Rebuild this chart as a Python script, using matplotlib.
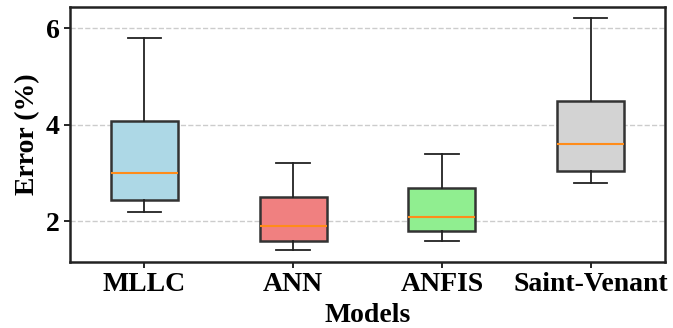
import numpy as np
import matplotlib.pyplot as plt

# Data
models = ['MLLC', 'ANN', 'ANFIS', 'Saint-Venant']
whislo = [2.2, 1.4, 1.6, 2.8]
q1 = [2.45, 1.6, 1.8, 3.05]
med = [3.0, 1.9, 2.1, 3.6]
q3 = [4.08, 2.5, 2.7, 4.5]
whishi = [5.8, 3.2, 3.4, 6.2]
colors = ['lightblue', 'lightcoral', 'lightgreen', 'lightgray']

plt.rcParams['font.family'] = ['Liberation Serif', 'DejaVu Serif']
plt.rcParams['font.weight'] = 'bold'

stats = []
for i in range(len(models)):
    stats.append({'label': models[i], 'whislo': whislo[i], 'q1': q1[i],
                  'med': med[i], 'q3': q3[i], 'whishi': whishi[i], 'fliers': []})

fig = plt.figure(figsize=(6.73, 3.28), dpi=100)
ax = fig.add_axes([0.104, 0.201, 0.884, 0.778])

bp = ax.bxp(stats, widths=0.45, patch_artist=True,
            boxprops=dict(linewidth=1.8, edgecolor='#333333'),
            whiskerprops=dict(linewidth=1.3, color='#222222'),
            capprops=dict(linewidth=1.3, color='#222222'),
            medianprops=dict(linewidth=1.5, color='#ff8c1a'))
for patch, c in zip(bp['boxes'], colors):
    patch.set_facecolor(c)

ax.set_yticks([2, 4, 6])
ax.yaxis.grid(True, linestyle='--', color='#cccccc', linewidth=1.0)
ax.set_axisbelow(True)
for s in ax.spines.values():
    s.set_linewidth(1.8)
    s.set_color('#222222')

ax.tick_params(axis='both', labelsize=20, width=1.2, length=4)
for lab in ax.get_xticklabels() + ax.get_yticklabels():
    lab.set_fontweight('bold')
ax.set_xlabel('Models', fontsize=20, fontweight='bold', labelpad=4)
ax.set_ylabel('Error (%)', fontsize=20, fontweight='bold', labelpad=4)

plt.savefig('out.png', dpi=100)
plt.close()
